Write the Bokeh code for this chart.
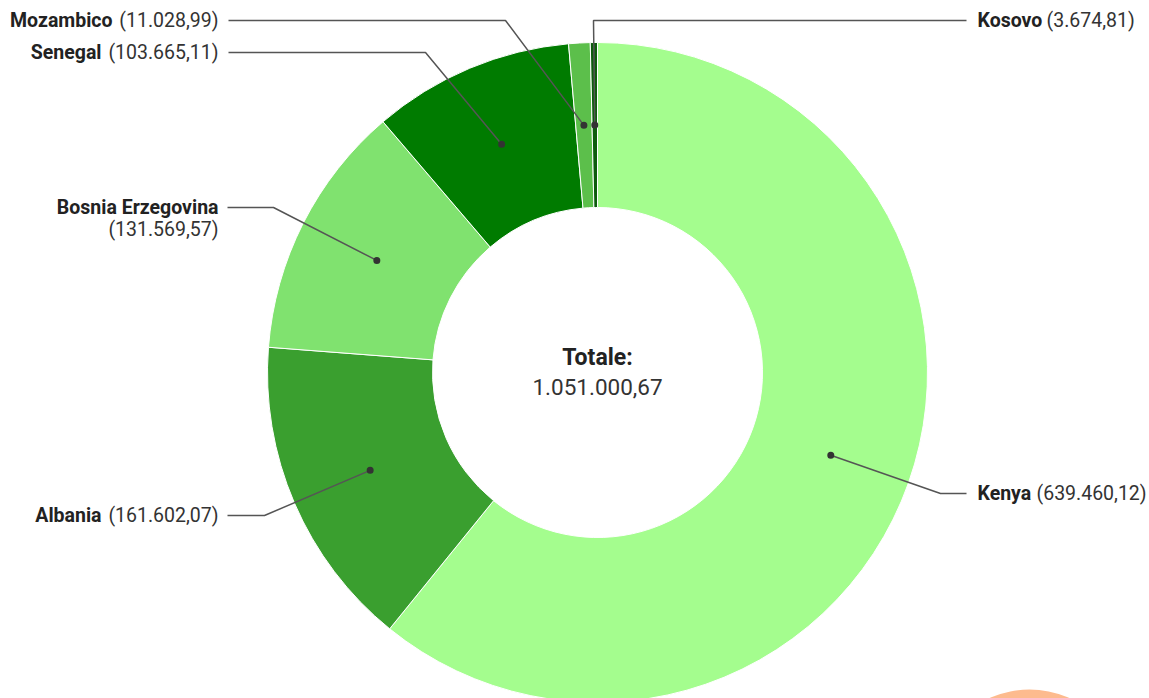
import math
from bokeh.plotting import figure
from bokeh.models import Range1d
from bokeh.embed import file_html
from bokeh.resources import INLINE
from bokeh.core.properties import value

# ---- data ----
countries = ["Kenya", "Albania", "Bosnia Erzegovina", "Senegal", "Mozambico", "Kosovo"]
amounts = [639460.12, 161602.07, 131569.57, 103665.11, 11028.99, 3674.81]
colors = ["#a4fd8e", "#3a9f2f", "#80e26f", "#007b00", "#5cbf4b", "#0d5c0d"]
total_title = "Totale:"


def it_fmt(v):
    s = f"{v:,.2f}"
    return s.replace(",", "X").replace(".", ",").replace("X", ".")


value_labels = ["(" + it_fmt(v) + ")" for v in amounts]
total_label = it_fmt(sum(amounts))

# ---- layout (pixels, y measured from top) ----
W, H = 1149, 698
CX, CY = 597, 372
R_OUT, R_IN = 330, 165
R_MID = (R_OUT + R_IN) / 2
FONT = "Roboto"
FS = "19.5px"

# per label: side, text y, elbow x, line start x, name x, value x (and value y)
label_layout = {
    "Kenya":             dict(side="R", ty=493, elbow=940, lx=966, nx=977, vx=1036, vy=493),
    "Albania":           dict(side="L", ty=515, elbow=264, lx=227, nx=101, vx=218, vy=515),
    "Bosnia Erzegovina": dict(side="L", ty=207, elbow=273, lx=227, nx=218, vx=218, vy=229),
    "Senegal":           dict(side="L", ty=52, elbow=425, lx=228, nx=101, vx=218, vy=52),
    "Mozambico":         dict(side="L", ty=20, elbow=505, lx=228, nx=112, vx=218, vy=20),
    "Kosovo":            dict(side="R", ty=20, elbow=593, lx=966, nx=977, vx=1046, vy=20),
}


def Y(py):
    return H - py


p = figure(width=W, height=H, x_range=Range1d(0, W), y_range=Range1d(0, H),
           output_backend="svg", toolbar_location=None, min_border=0,
           x_axis_type=None, y_axis_type=None)
p.grid.visible = False
p.outline_line_color = None
p.background_fill_color = "white"
p.border_fill_color = "white"

# decorative orange circle at bottom right
p.circle(x=[1029], y=[Y(787)], radius=98, fill_color="#fdbb8e", line_color=None)

total = sum(amounts)
cum = 0.0
starts, ends, mids = [], [], []
for v in amounts:
    c0 = cum / total
    cum += v
    c1 = cum / total
    starts.append(math.pi / 2 - 2 * math.pi * c0)
    ends.append(math.pi / 2 - 2 * math.pi * c1)
    mids.append(math.pi / 2 - 2 * math.pi * (c0 + c1) / 2)

p.annular_wedge(x=CX, y=Y(CY), inner_radius=R_IN, outer_radius=R_OUT,
                start_angle=starts, end_angle=ends, direction="clock",
                fill_color=colors, line_color="white", line_width=1)

dot_x = [CX + R_MID * math.cos(a) for a in mids]
dot_y = [Y(CY) + R_MID * math.sin(a) for a in mids]

for i, name in enumerate(countries):
    L = label_layout[name]
    xs = [L["lx"], L["elbow"], dot_x[i]]
    ys = [Y(L["ty"]), Y(L["ty"]), dot_y[i]]
    p.line(xs, ys, line_color="#555555", line_width=1.5)

p.scatter(dot_x, dot_y, size=7, fill_color="#333333", line_color=None)

for i, name in enumerate(countries):
    L = label_layout[name]
    align = "left" if L["side"] == "R" else "right"
    p.text(x=[L["nx"]], y=[Y(L["ty"])], text=[name], text_font=value(FONT),
           text_font_style="bold", text_font_size=FS, text_color="#222222",
           text_align=align, text_baseline="middle")
    p.text(x=[L["vx"]], y=[Y(L["vy"])], text=[value_labels[i]], text_font=value(FONT),
           text_font_size=FS, text_color="#333333",
           text_align=align, text_baseline="middle")

p.text(x=[CX], y=[Y(357)], text=[total_title], text_font=value(FONT),
       text_font_style="bold", text_font_size="23px", text_color="#222222",
       text_align="center", text_baseline="middle")
p.text(x=[CX], y=[Y(386)], text=[total_label], text_font=value(FONT),
       text_font_size="22.5px", text_color="#333333",
       text_align="center", text_baseline="middle")

open("out.html", "w").write(file_html(p, INLINE))
